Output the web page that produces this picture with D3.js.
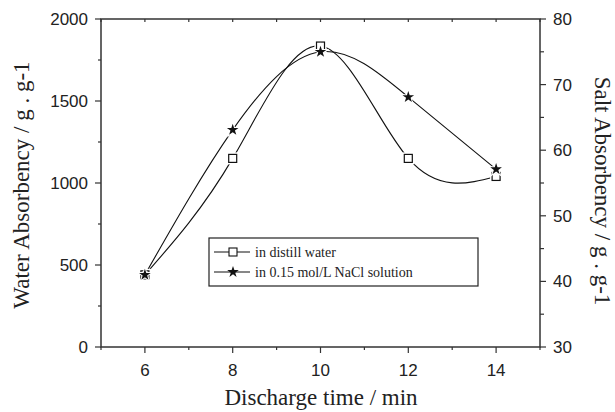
<!DOCTYPE html>
<html>
<head>
<meta charset="utf-8">
<script src="https://cdn.jsdelivr.net/npm/d3@7"></script>
<style>
body { margin: 0; background: #fff; }
</style>
</head>
<body>
<svg id="chart" width="615" height="412"></svg>
<script>
// discharge time (min)
var times = [6, 8, 10, 12, 14];
// water absorbency, left axis (g/g)
var waterAbs = [440, 1150, 1835, 1150, 1040];
// salt absorbency, right axis (g/g)
var saltAbs = [41, 63.1, 75, 68.1, 57.1];

var xTicks = [6, 8, 10, 12, 14];
var leftTicks = [0, 500, 1000, 1500, 2000];
var rightTicks = [30, 40, 50, 60, 70, 80];
var legendItems = ["in distill water", "in 0.15 mol/L NaCl solution"];

var svg = d3.select("#chart");
var L = 101, R = 540, T = 19, B = 347;

var x = d3.scaleLinear().domain([5, 15]).range([L, R]);
var yL = d3.scaleLinear().domain([0, 2000]).range([B, T]);
var yR = d3.scaleLinear().domain([30, 80]).range([B, T]);

var axisColor = "#333";
var tickFont = "'Liberation Sans', Arial, sans-serif";
var serif = "'Liberation Serif', 'Times New Roman', serif";

// frame
svg.append("rect")
	.attr("x", L).attr("y", T).attr("width", R - L).attr("height", B - T)
	.style("fill", "none").style("stroke", axisColor).style("stroke-width", 1.5);

function minorOf(major) {
	var out = [];
	for (var i = 0; i < major.length - 1; i++) out.push((major[i] + major[i + 1]) / 2);
	return out;
}

var gAx = svg.append("g").style("stroke", axisColor).style("stroke-width", 1.2);

// bottom ticks (outward) + top ticks (inward)
var xMinor = [5, 7, 9, 11, 13, 15];
xTicks.forEach(function (d) {
	gAx.append("line").attr("x1", x(d)).attr("x2", x(d)).attr("y1", B).attr("y2", B + 6);
	gAx.append("line").attr("x1", x(d)).attr("x2", x(d)).attr("y1", T).attr("y2", T + 3);
});
xMinor.forEach(function (d) {
	gAx.append("line").attr("x1", x(d)).attr("x2", x(d)).attr("y1", B).attr("y2", B + 3);
	gAx.append("line").attr("x1", x(d)).attr("x2", x(d)).attr("y1", T).attr("y2", T + 3);
});

// left ticks
leftTicks.forEach(function (d) {
	gAx.append("line").attr("x1", L - 6).attr("x2", L).attr("y1", yL(d)).attr("y2", yL(d));
});
minorOf(leftTicks).forEach(function (d) {
	gAx.append("line").attr("x1", L - 3).attr("x2", L).attr("y1", yL(d)).attr("y2", yL(d));
});

// right ticks
rightTicks.forEach(function (d) {
	gAx.append("line").attr("x1", R).attr("x2", R + 6).attr("y1", yR(d)).attr("y2", yR(d));
});
minorOf(rightTicks).forEach(function (d) {
	gAx.append("line").attr("x1", R).attr("x2", R + 4).attr("y1", yR(d)).attr("y2", yR(d));
});

// tick labels
svg.selectAll(".xl").data(xTicks).enter().append("text")
	.attr("x", d => x(d)).attr("y", B + 29)
	.text(d => d)
	.style("font-family", tickFont).style("font-size", "17px")
	.style("text-anchor", "middle").style("fill", "#222");

svg.selectAll(".yl").data(leftTicks).enter().append("text")
	.attr("x", L - 13).attr("y", d => yL(d) + 6)
	.text(d => d)
	.style("font-family", tickFont).style("font-size", "17px")
	.style("text-anchor", "end").style("fill", "#222");

svg.selectAll(".yr").data(rightTicks).enter().append("text")
	.attr("x", R + 13).attr("y", d => yR(d) + 6)
	.text(d => d)
	.style("font-family", tickFont).style("font-size", "17px")
	.style("text-anchor", "start").style("fill", "#222");

// axis titles
svg.append("text").text("Discharge time / min")
	.attr("x", 321).attr("y", 405)
	.style("font-family", serif).style("font-size", "23px")
	.style("text-anchor", "middle").style("fill", "#222");

svg.append("text").text("Water Absorbency / g . g-1")
	.attr("transform", `translate(29,185) rotate(-90)`)
	.style("font-family", serif).style("font-size", "23px")
	.style("text-anchor", "middle").style("fill", "#222");

svg.append("text").text("Salt Absorbency / g . g-1")
	.attr("transform", `translate(595,191) rotate(90)`)
	.style("font-family", serif).style("font-size", "23px")
	.style("text-anchor", "middle").style("fill", "#222");

// curves
var waterPts = times.map((t, i) => [x(t), yL(waterAbs[i])]);
var saltPts = times.map((t, i) => [x(t), yR(saltAbs[i])]);
var line = d3.line().curve(d3.curveNatural);

svg.append("path").attr("d", line(waterPts))
	.style("fill", "none").style("stroke", "#111").style("stroke-width", 1.1);
svg.append("path").attr("d", line(saltPts))
	.style("fill", "none").style("stroke", "#111").style("stroke-width", 1.1);

// markers (white halo leaves a small gap in the curve, as in the original)
var star = d3.symbol().type(d3.symbolStar).size(42);

svg.selectAll(".sq").data(waterPts).enter().append("rect")
	.attr("x", d => d[0] - 4).attr("y", d => d[1] - 4)
	.attr("width", 8).attr("height", 8)
	.style("fill", "#fff").style("stroke", "#fff").style("stroke-width", 4);
svg.selectAll(".sq2").data(waterPts).enter().append("rect")
	.attr("x", d => d[0] - 4).attr("y", d => d[1] - 4)
	.attr("width", 8).attr("height", 8)
	.style("fill", "#fff").style("stroke", "#111").style("stroke-width", 1.2);

svg.selectAll(".st").data(saltPts).enter().append("path")
	.attr("d", star)
	.attr("transform", d => `translate(${ d[0] },${ d[1] })`)
	.style("fill", "#111").style("stroke", "#fff").style("stroke-width", 2)
	.style("paint-order", "stroke");

// legend
var lg = svg.append("g");
lg.append("rect").attr("x", 209).attr("y", 238).attr("width", 269).attr("height", 48)
	.style("fill", "#fff").style("stroke", "#222").style("stroke-width", 1.2);

legendItems.forEach(function (label, i) {
	var ly = 252 + i * 20;
	lg.append("line").attr("x1", 214).attr("x2", 250).attr("y1", ly).attr("y2", ly)
		.style("stroke", "#111").style("stroke-width", 1.1);
	if (i === 0) {
		lg.append("rect").attr("x", 229).attr("y", ly - 4).attr("width", 8).attr("height", 8)
			.style("fill", "#fff").style("stroke", "#111").style("stroke-width", 1.1);
	} else {
		lg.append("path").attr("d", star).attr("transform", `translate(233,${ ly })`)
			.style("fill", "#111");
	}
	lg.append("text").text(label).attr("x", 255).attr("y", ly + 5)
		.style("font-family", serif).style("font-size", "14px").style("fill", "#222");
});
</script>
</body>
</html>
